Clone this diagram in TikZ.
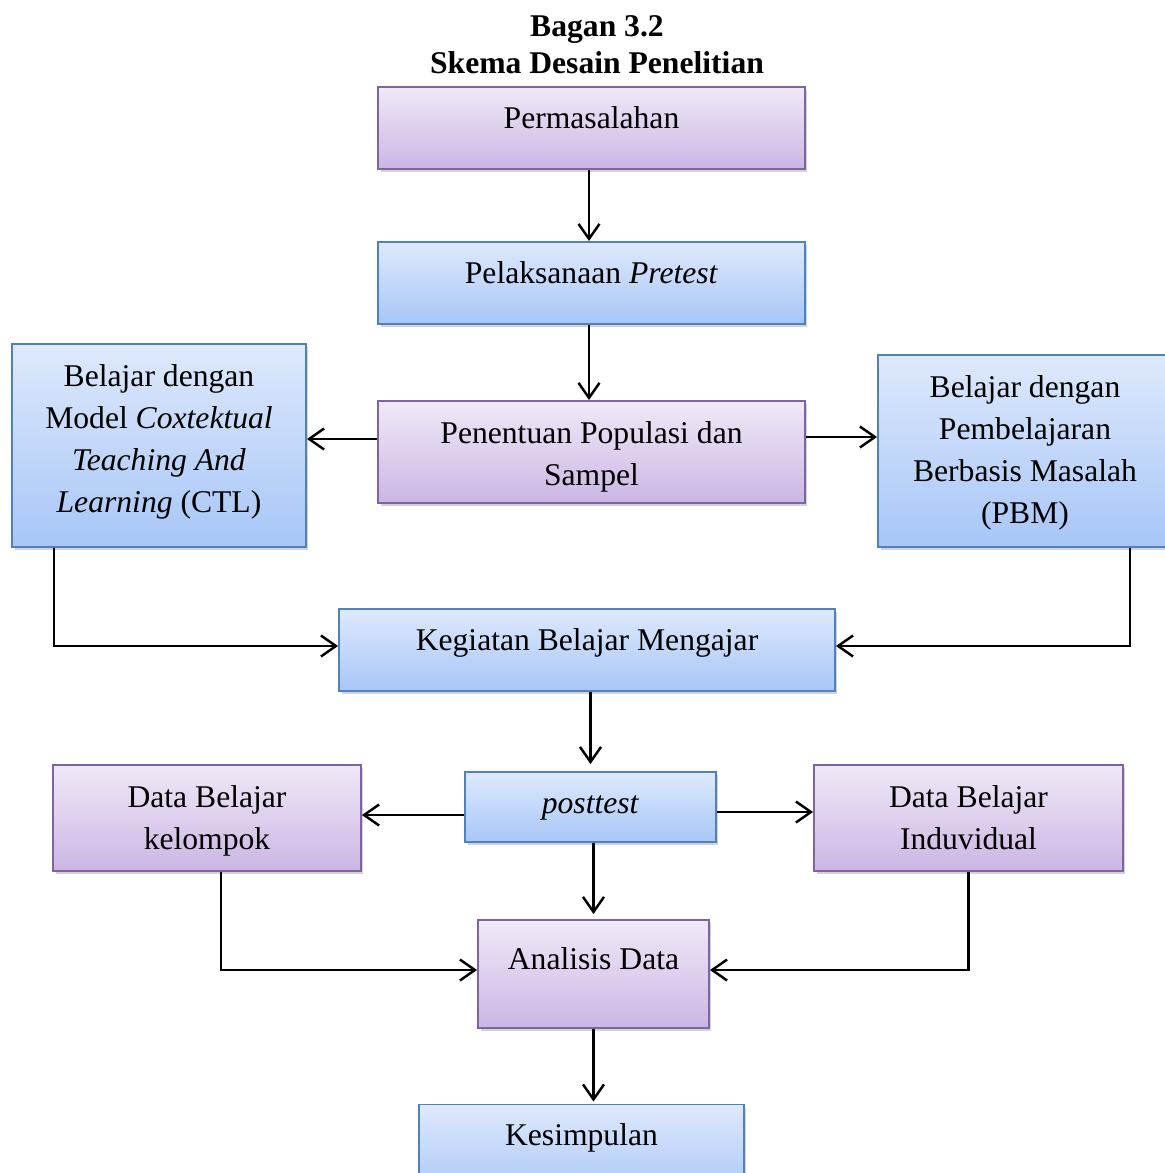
\documentclass[tikz,border=0pt]{standalone}
\usepackage{fontspec}
\setmainfont{Liberation Serif}
\usetikzlibrary{arrows.meta,shadows}
\definecolor{bluetop}{HTML}{DEE9FC}
\definecolor{bluebot}{HTML}{A7C6F7}
\definecolor{blueline}{HTML}{4F81BD}
\definecolor{purptop}{HTML}{F0E9F7}
\definecolor{purpbot}{HTML}{CBB6E4}
\definecolor{purpline}{HTML}{8064A2}
\tikzset{
  box/.style={rectangle, inner sep=0pt, line width=1.1pt,
    drop shadow={shadow xshift=0.05cm, shadow yshift=-0.06cm, opacity=0.35}},
  bluebox/.style={box, draw=blueline, top color=bluetop, bottom color=bluebot},
  purplebox/.style={box, draw=purpline, top color=purptop, bottom color=purpbot},
  boxtext/.style={anchor=north, align=center, inner sep=0pt,
    font=\fontsize{18}{23.9}\selectfont, execute at begin node=\strut},
  flow/.style={line width=1.4pt, -{Straight Barb[length=0.3cm, width=0.42cm, line width=1.4pt]}}
}
\begin{document}
\begin{tikzpicture}[x=0.02cm, y=-0.02cm]
\useasboundingbox (0,0) rectangle (1165,1173);

\node[anchor=base, align=center, inner sep=0pt, font=\fontsize{18}{20.5}\selectfont\bfseries] (title) at (597,73) {Bagan 3.2\\Skema Desain Penelitian};

% kotak
\node[purplebox, minimum width=8.54cm, minimum height=1.64cm] (perm) at (591.5,128) {};
\node[bluebox, minimum width=8.54cm, minimum height=1.64cm] (pre) at (591.5,283) {};
\node[purplebox, minimum width=8.54cm, minimum height=2.04cm] (pop) at (591.5,452) {};
\node[bluebox, minimum width=5.88cm, minimum height=4.06cm] (ctl) at (159,445.5) {};
\node[bluebox, minimum width=5.88cm, minimum height=3.84cm] (pbm) at (1025,451) {};
\node[bluebox, minimum width=9.92cm, minimum height=1.64cm] (kbm) at (587,650) {};
\node[bluebox, minimum width=5.02cm, minimum height=1.40cm] (post) at (590.5,807) {};
\node[purplebox, minimum width=6.16cm, minimum height=2.12cm] (dkel) at (207,818) {};
\node[purplebox, minimum width=6.18cm, minimum height=2.12cm] (dind) at (968.5,818) {};
\node[purplebox, minimum width=4.62cm, minimum height=2.16cm] (ana) at (593.5,974) {};
\node[bluebox, minimum width=6.50cm, minimum height=1.90cm] (kes) at (581.5,1152) {};

% teks
\node[boxtext] (perm-t) at ([yshift=-7pt]perm.north) {Permasalahan};
\node[boxtext] (pre-t) at ([yshift=-7pt]pre.north) {Pelaksanaan \textit{Pretest}};
\node[boxtext] (pop-t) at ([yshift=-12pt]pop.north) {Penentuan Populasi dan\\Sampel};
\node[boxtext] (ctl-t) at ([yshift=-12pt]ctl.north) {Belajar dengan\\Model \textit{Coxtektual}\\\textit{Teaching And}\\\textit{Learning} (CTL)};
\node[boxtext] (pbm-t) at ([yshift=-12pt]pbm.north) {Belajar dengan\\Pembelajaran\\Berbasis Masalah\\(PBM)};
\node[boxtext] (kbm-t) at ([yshift=-7pt]kbm.north) {Kegiatan Belajar Mengajar};
\node[boxtext] (post-t) at ([yshift=-7pt]post.north) {\textit{posttest}};
\node[boxtext] (dkel-t) at ([yshift=-12pt]dkel.north) {Data Belajar\\kelompok};
\node[boxtext] (dind-t) at ([yshift=-12pt]dind.north) {Data Belajar\\Induvidual};
\node[boxtext] (ana-t) at ([yshift=-12pt]ana.north) {Analisis Data};
\node[boxtext] (kes-t) at ([yshift=-7pt]kes.north) {Kesimpulan};

% panah
\draw[flow] (perm.south -| 589,0) -- (pre.north -| 589,0);
\draw[flow] (pre.south -| 589,0) -- (pop.north -| 589,0);
\draw[flow] ([yshift=0.26cm]pop.west) -- ([yshift=0.26cm]pop.west -| ctl.east);
\draw[flow] ([yshift=0.3cm]pop.east) -- ([yshift=0.3cm]pop.east -| pbm.west);
\draw[flow] ([xshift=0.86cm]ctl.south west) |- ([yshift=0.08cm]kbm.west);
\draw[flow] ([xshift=5.06cm]pbm.south west) |- ([yshift=0.08cm]kbm.east);
\draw[flow] (kbm.south -| post.north) -- ([yshift=0.14cm]post.north);
\draw[flow] ([yshift=-0.16cm]post.west) -- ([yshift=-0.16cm]post.west -| dkel.east);
\draw[flow] ([yshift=-0.1cm]post.east) -- ([yshift=-0.1cm]post.east -| dind.west);
\draw[flow] (post.south -| ana.north) -- ([yshift=0.1cm]ana.north);
\draw[flow] ([xshift=0.28cm]dkel.south) |- ([yshift=0.08cm]ana.west);
\draw[flow] (dind.south) |- ([yshift=0.08cm]ana.east);
\draw[flow] (ana.south) -- ([yshift=0.04cm]kes.north -| ana.south);
\end{tikzpicture}
\end{document}
